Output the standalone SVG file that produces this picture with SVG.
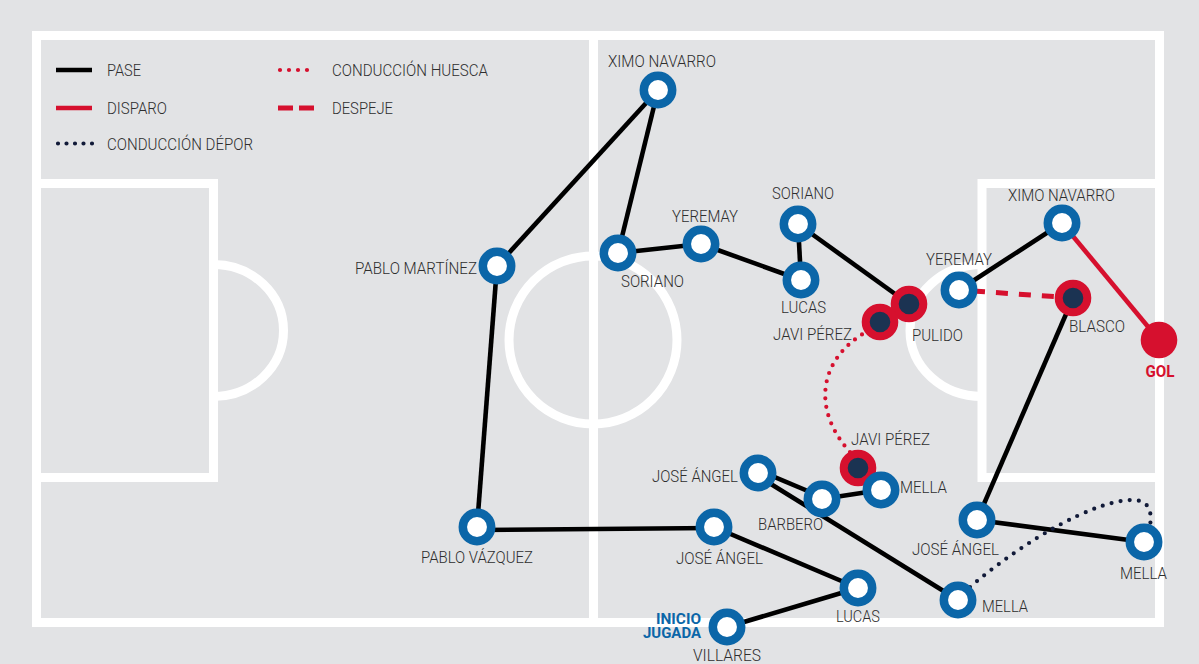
<svg xmlns="http://www.w3.org/2000/svg" width="1199" height="664" viewBox="0 0 1199 664">
<style>
.bg{fill:#e2e3e5}
.fl{fill:none;stroke:#fff;stroke-width:9}
.pass{stroke:#000;stroke-width:4.6;fill:none}
.shot{stroke:#d6102e;stroke-width:4.6;fill:none}
.clear{stroke:#d6102e;stroke-width:5;fill:none;stroke-dasharray:12 11}
.hd{stroke:#d6102e;stroke-width:4.2;fill:none;stroke-linecap:round;stroke-dasharray:0 8.6}
.dd{stroke:#111a38;stroke-width:4.2;fill:none;stroke-linecap:round;stroke-dasharray:0 9.2}
.n{fill:#fff;stroke:#0b66a8;stroke-width:8.5}
.r{fill:#1b3352;stroke:#d6102e;stroke-width:8}
text{font-family:Roboto,"Liberation Sans",sans-serif;font-size:16px;font-weight:300;fill:#2e2e2e}
.gol{font-weight:700;fill:#d6102e}
.ini{font-weight:700;font-size:14px;fill:#0b66a8}
</style>
<rect class="bg" x="0" y="0" width="1199" height="664"/>
<g id="field">
<rect class="fl" x="36.5" y="35.5" width="1123" height="587"/>
<line class="fl" x1="593.5" y1="35.5" x2="593.5" y2="622.5"/>
<circle class="fl" cx="593" cy="340" r="84"/>
<rect class="fl" x="36.5" y="183.5" width="177" height="294"/>
<path class="fl" d="M213.5 264.5 A70 66 0 0 1 213.5 396.5"/>
<rect class="fl" x="982" y="183.5" width="177.5" height="294"/>
<path class="fl" d="M982 264.5 A72 66 0 0 0 982 396.5"/>
</g>
<g id="legend">
<line class="pass" x1="56" y1="70" x2="92" y2="70"/>
<text x="107" y="75.5" textLength="34" lengthAdjust="spacingAndGlyphs">PASE</text>
<line class="shot" x1="56" y1="108" x2="92" y2="108"/>
<text x="107" y="114" textLength="60" lengthAdjust="spacingAndGlyphs">DISPARO</text>
<line class="dd" x1="58" y1="143.5" x2="93" y2="143.5" style="stroke-dasharray:0 8.5"/>
<text x="107" y="149.5" textLength="146" lengthAdjust="spacingAndGlyphs">CONDUCCIÓN DÉPOR</text>
<line class="hd" x1="280" y1="70" x2="316" y2="70" style="stroke-dasharray:0 9"/>
<text x="332" y="75.5" textLength="156" lengthAdjust="spacingAndGlyphs">CONDUCCIÓN HUESCA</text>
<line class="shot" x1="278" y1="108" x2="314" y2="108" style="stroke-dasharray:15 6;stroke-width:5"/>
<text x="332" y="114" textLength="61" lengthAdjust="spacingAndGlyphs">DESPEJE</text>
</g>
<g id="connectors">
<line class="pass" x1="658" y1="90" x2="497" y2="266"/>
<line class="pass" x1="658" y1="90" x2="618" y2="253"/>
<line class="pass" x1="497" y1="266" x2="477" y2="527"/>
<line class="pass" x1="477" y1="530" x2="714" y2="528"/>
<line class="pass" x1="714" y1="527" x2="858" y2="588"/>
<line class="pass" x1="858" y1="588" x2="727" y2="627"/>
<line class="pass" x1="618" y1="253" x2="701" y2="244"/>
<line class="pass" x1="701" y1="244" x2="801" y2="280"/>
<line class="pass" x1="801" y1="280" x2="798" y2="224"/>
<line class="pass" x1="798" y1="224" x2="909" y2="304"/>
<line class="pass" x1="959" y1="290" x2="1062" y2="223"/>
<line class="shot" x1="1062" y1="223" x2="1159" y2="340"/>
<line class="clear" x1="973" y1="291" x2="1060" y2="297"/>
<line class="pass" x1="1073" y1="298" x2="977" y2="520"/>
<line class="pass" x1="977" y1="520" x2="1144" y2="542"/>
<line class="pass" x1="758" y1="470" x2="822" y2="497"/>
<line class="pass" x1="758" y1="476" x2="958" y2="600"/>
<line class="pass" x1="822" y1="499" x2="881" y2="490"/>
<path class="dd" d="M970 587 C1025 540 1095 500 1132 500 C1150 500 1152 512 1150 526"/>
<path class="hd" d="M850 452 C812 410 818 360 866 332"/>
</g>
<g id="n-ximo-top"><circle class="n" cx="658" cy="90" r="14.2"/><text x="662" y="67" text-anchor="middle" textLength="108" lengthAdjust="spacingAndGlyphs">XIMO NAVARRO</text></g>
<g id="n-pablo-martinez"><circle class="n" cx="497" cy="266" r="14.2"/><text x="355" y="274" textLength="122" lengthAdjust="spacingAndGlyphs">PABLO MARTÍNEZ</text></g>
<g id="n-soriano-1"><circle class="n" cx="618" cy="253" r="14.2"/><text x="621" y="287" textLength="63" lengthAdjust="spacingAndGlyphs">SORIANO</text></g>
<g id="n-yeremay-1"><circle class="n" cx="701" cy="244" r="14.2"/><text x="672" y="222" textLength="66" lengthAdjust="spacingAndGlyphs">YEREMAY</text></g>
<g id="n-soriano-2"><circle class="n" cx="798" cy="224" r="14.2"/><text x="772" y="199" textLength="62" lengthAdjust="spacingAndGlyphs">SORIANO</text></g>
<g id="n-lucas-1"><circle class="n" cx="801" cy="280" r="14.2"/><text x="781" y="313" textLength="45" lengthAdjust="spacingAndGlyphs">LUCAS</text></g>
<g id="n-pulido"><circle class="r" cx="909" cy="304" r="14.3"/><text x="912" y="341" textLength="51" lengthAdjust="spacingAndGlyphs">PULIDO</text></g>
<g id="n-javi-1"><circle class="r" cx="880" cy="322" r="14.3"/><text x="773" y="340" textLength="79" lengthAdjust="spacingAndGlyphs">JAVI PÉREZ</text></g>
<g id="n-yeremay-2"><circle class="n" cx="959" cy="290" r="14.2"/><text x="926" y="265" textLength="66" lengthAdjust="spacingAndGlyphs">YEREMAY</text></g>
<g id="n-ximo-2"><circle class="n" cx="1062" cy="223" r="14.2"/><text x="1008" y="201" textLength="107" lengthAdjust="spacingAndGlyphs">XIMO NAVARRO</text></g>
<g id="n-blasco"><circle class="r" cx="1073" cy="298" r="14.3"/><text x="1069" y="332" textLength="56" lengthAdjust="spacingAndGlyphs">BLASCO</text></g>
<g id="n-gol"><circle cx="1159" cy="340" r="18.3" fill="#d6102e"/><text class="gol" x="1160" y="377" text-anchor="middle" textLength="29" lengthAdjust="spacingAndGlyphs">GOL</text></g>
<g id="n-javi-2"><circle class="r" cx="858" cy="468" r="14.3"/><text x="851" y="445" textLength="79" lengthAdjust="spacingAndGlyphs">JAVI PÉREZ</text></g>
<g id="n-jose-1"><circle class="n" cx="758" cy="473" r="14.2"/><text x="652" y="482" textLength="86" lengthAdjust="spacingAndGlyphs">JOSÉ ÁNGEL</text></g>
<g id="n-barbero"><circle class="n" cx="822" cy="499" r="14.2"/><text x="758" y="530" textLength="65" lengthAdjust="spacingAndGlyphs">BARBERO</text></g>
<g id="n-mella-1"><circle class="n" cx="881" cy="490" r="14.2"/><text x="900" y="493" textLength="47" lengthAdjust="spacingAndGlyphs">MELLA</text></g>
<g id="n-pablo-vazquez"><circle class="n" cx="477" cy="527" r="14.2"/><text x="421" y="563" textLength="112" lengthAdjust="spacingAndGlyphs">PABLO VÁZQUEZ</text></g>
<g id="n-jose-2"><circle class="n" cx="714" cy="527" r="14.2"/><text x="676" y="564" textLength="87" lengthAdjust="spacingAndGlyphs">JOSÉ ÁNGEL</text></g>
<g id="n-lucas-2"><circle class="n" cx="858" cy="588" r="14.2"/><text x="836" y="622" textLength="44" lengthAdjust="spacingAndGlyphs">LUCAS</text></g>
<g id="n-villares"><circle class="n" cx="727" cy="627" r="14.2"/><text x="693" y="661" textLength="68" lengthAdjust="spacingAndGlyphs">VILLARES</text><text class="ini" x="701" y="624" text-anchor="end" textLength="45" lengthAdjust="spacingAndGlyphs">INICIO</text><text class="ini" x="701" y="638" text-anchor="end" textLength="58" lengthAdjust="spacingAndGlyphs">JUGADA</text></g>
<g id="n-mella-2"><circle class="n" cx="958" cy="600" r="14.2"/><text x="982" y="612" textLength="46" lengthAdjust="spacingAndGlyphs">MELLA</text></g>
<g id="n-jose-3"><circle class="n" cx="977" cy="520" r="14.2"/><text x="912" y="555" textLength="87" lengthAdjust="spacingAndGlyphs">JOSÉ ÁNGEL</text></g>
<g id="n-mella-3"><circle class="n" cx="1144" cy="542" r="14.2"/><text x="1120" y="579" textLength="47" lengthAdjust="spacingAndGlyphs">MELLA</text></g>
</svg>
